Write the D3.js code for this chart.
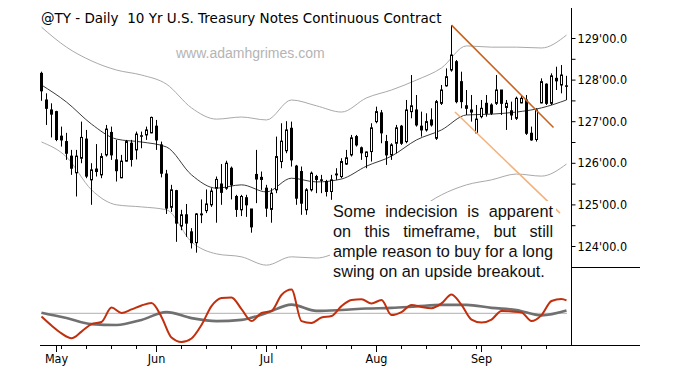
<!DOCTYPE html>
<html>
<head>
<meta charset="utf-8">
<script src="https://cdn.jsdelivr.net/npm/d3@7"></script>
<style>
  body { margin: 0; background: #fff; }
  svg text { font-family: Tahoma, "DejaVu Sans Condensed", "DejaVu Sans", sans-serif; }
</style>
</head>
<body>
<script>
const width = 679, height = 375;

// trading calendar, Apr 28 - Sep 25 2015
const firstDay = "2015-04-28", lastDay = "2015-09-25";
const holidays = ["2015-05-25", "2015-07-03", "2015-09-07"];

// daily bars (price in points)
const open = [128.15,127.51,127.27,127.23,126.64,126.51,126.16,125.76,126.11,126.57,125.59,125.85,125.71,126.19,126.73,126.07,125.64,126.04,126.47,126.31,126.65,126.67,126.72,126.88,126.43,125.73,
  124.93,125.33,124.48,124.75,124.34,124.08,124.75,124.85,124.99,125.39,125.49,125.39,125.87,125.19,124.87,125.16,124.89,125.72,125.65,125.39,124.88,125.35,126.03,126.29,126.83,125.92,
  125.79,124.87,125.35,125.67,125.59,125.55,125.31,125.71,125.67,125.97,126.19,126.63,126.36,126.15,126.27,126.99,127.20,126.51,126.19,126.47,126.88,126.51,127.23,127.27,126.88,126.79,127.03,
  126.59,127.43,127.85,128.23,128.43,127.95,127.37,127.27,126.72,127.11,127.43,127.39,127.43,127.75,127.33,127.25,127.07,127.44,127.51,126.71,126.56,127.44,127.89,127.43,128.03,127.87,127.85];
const high = [128.19,127.67,127.43,127.25,126.87,126.72,126.31,126.31,126.99,126.79,125.99,126.45,126.23,126.91,126.87,126.55,126.19,126.55,126.55,126.75,126.75,126.87,127.11,127.03,126.51,125.83,
  125.47,125.35,124.87,125.01,124.43,124.79,125.12,125.36,125.39,125.67,125.97,126.05,125.91,125.23,125.23,125.23,124.89,126.31,125.79,125.47,125.39,126.63,126.95,127.00,126.99,125.95,
  125.91,125.39,125.79,125.71,125.71,125.59,125.71,125.87,126.11,126.31,126.67,126.67,126.39,126.27,126.95,127.35,127.27,126.67,126.47,126.91,126.91,127.51,128.11,127.63,127.23,127.19,127.31,
  127.51,127.87,128.27,129.31,128.47,128.19,127.75,127.63,127.39,127.51,127.63,127.43,128.11,127.75,127.51,127.47,127.59,127.63,127.63,126.87,127.31,128.03,127.91,128.15,128.31,128.35,128.09];
const low = [127.49,126.91,126.61,126.52,126.39,126.07,125.71,125.19,125.99,125.63,124.99,125.67,125.63,126.15,126.07,125.55,125.63,126.03,125.91,126.08,126.35,126.55,126.71,126.31,125.65,124.77,
  124.82,124.10,124.38,124.22,123.94,123.84,124.55,124.79,124.94,124.56,124.99,125.35,125.12,124.70,124.72,124.70,124.32,125.03,125.35,124.70,124.56,125.27,125.87,126.23,125.91,124.99,
  124.75,124.75,125.31,125.27,125.27,125.19,125.11,125.59,125.63,125.95,126.15,126.39,126.07,125.87,126.03,126.95,126.47,125.95,126.07,126.23,126.43,126.47,127.07,126.87,126.63,126.75,126.87,
  126.55,127.39,127.83,128.19,127.43,127.31,127.15,126.99,126.71,127.07,127.11,127.15,127.39,127.15,126.79,127.03,127.03,127.43,126.67,126.53,126.51,127.43,127.39,127.39,127.75,127.67,127.51];
const close = [127.73,127.31,127.17,126.56,126.55,126.23,125.87,126.16,126.61,125.68,125.83,125.79,126.15,126.81,126.19,125.81,126.04,126.51,126.08,126.69,126.65,126.79,127.09,126.55,125.75,124.91,
  125.35,124.55,124.75,124.55,124.08,124.77,124.77,125.01,125.32,125.60,125.29,125.99,125.47,124.88,125.19,124.99,124.46,125.61,125.60,124.91,125.27,126.15,126.52,126.79,126.07,125.15,
  125.03,125.35,125.75,125.60,125.58,125.31,125.59,125.73,126.03,126.12,126.60,126.43,126.24,126.26,126.84,127.23,126.72,126.19,126.43,126.84,126.47,127.27,127.37,126.91,126.79,126.99,126.91,
  127.47,127.75,128.07,128.59,127.47,127.47,127.31,127.22,127.05,127.31,127.19,127.19,127.75,127.43,127.43,127.15,127.55,127.55,126.71,126.55,127.27,127.95,127.43,128.09,127.97,128.11,127.85];

// overlays read every 5th bar: upper band, average, lower band
const bandStep = 5;
const upperBand = [129.26,128.78,128.45,128.23,128.11,127.89,127.32,127.05,127.10,127.03,127.51,127.37,127.22,127.56,127.75,127.99,128.28,128.81,128.78,128.78,128.76,129.07];
const average = [127.87,127.46,126.93,126.57,126.50,126.38,125.71,125.39,125.47,125.30,125.63,125.54,125.61,125.92,126.16,126.55,126.79,127.15,127.17,127.22,127.32,127.51];
const lowerBand = [126.50,126.14,125.35,124.99,124.94,124.87,124.10,123.81,123.74,123.54,123.74,123.71,123.90,124.22,124.58,124.87,125.23,125.47,125.59,125.73,125.68,125.97];

// lower panel oscillators
const fastStep = 2;
const fastOsc = [-0.11,-0.41,-0.67,-0.83,-0.61,-0.36,-0.29,0.19,0.01,0.13,0.26,0.34,-0.12,-0.81,-0.96,-0.84,-0.39,0.24,0.51,0.53,0.14,-0.26,0.01,0.08,0.61,0.79,-0.26,
  -0.32,-0.14,-0.09,0.24,0.44,0.47,0.33,0.44,-0.06,0.04,0.28,0.21,0.17,0.33,0.63,0.28,-0.21,-0.31,-0.21,0.08,0.06,0.03,-0.26,-0.06,0.41,0.48,0.43];
const slowStep = 5;
const slowOsc = [0.02,-0.16,-0.36,-0.39,-0.22,0.04,-0.16,-0.26,-0.22,0.01,0.29,0.08,0.11,0.16,0.18,0.23,0.28,0.28,0.18,0.11,-0.07,0.09];

// trend lines: [bar, price] pairs
const trendLines = [
  { pts: [[82, 129.31], [102.4, 126.85]], color: "#c8641e" },
  { pts: [[82.7, 127.22], [103.7, 124.79]], color: "#f3b27c" }
];

const priceTicks = d3.range(124, 129.01, 0.5);
const title = "@TY - Daily  10 Yr U.S. Treasury Notes Continuous Contract";
const watermark = "www.adamhgrimes.com";
const note = ["Some indecision is apparent", "on this timeframe, but still", "ample reason to buy for a long", "swing on an upside breakout."];

const fmtDay = d3.utcFormat("%Y-%m-%d");
const parseDay = d3.utcParse("%Y-%m-%d");
const days = d3.utcDays(parseDay(firstDay), d3.utcDay.offset(parseDay(lastDay), 1))
  .filter(d => d.getUTCDay() % 6 !== 0 && !holidays.includes(fmtDay(d)));

const svg = d3.select("body").append("svg")
  .attr("width", width)
  .attr("height", height);

const x = d3.scaleLinear().domain([0, open.length - 1]).range([41.5, 566.5]);
const y = d3.scaleLinear().domain([124, 129]).range([246, 38]);
const yOsc = d3.scaleLinear().domain([-1, 1]).range([343.3, 283.3]);

const sampled = (vals, step) => vals.map((v, k) => [Math.min(k * step, open.length - 1), v]);

// title + watermark
svg.append("text").attr("x", 41).attr("y", 23)
  .attr("font-size", 13.5).attr("fill", "#000")
  .style("font-family", "'DejaVu Sans', Tahoma, sans-serif")
  .style("white-space", "pre")
  .text(title);
svg.append("text").attr("x", 176).attr("y", 57.5)
  .attr("font-size", 14).attr("fill", "#b4b4b4")
  .style("font-family", "'Liberation Sans', Arial, sans-serif")
  .text(watermark);

// bands and average
const priceLine = d3.line().x(d => x(d[0])).y(d => y(d[1])).curve(d3.curveMonotoneX);
svg.append("path").datum(sampled(upperBand, bandStep)).attr("d", priceLine)
  .attr("fill", "none").attr("stroke", "#a9a9a9").attr("stroke-width", 1);
svg.append("path").datum(sampled(lowerBand, bandStep)).attr("d", priceLine)
  .attr("fill", "none").attr("stroke", "#a9a9a9").attr("stroke-width", 1);
svg.append("path").datum(sampled(average, bandStep)).attr("d", priceLine)
  .attr("fill", "none").attr("stroke", "#3c3c3c").attr("stroke-width", 1);

// candles
const bars = open.map((o, i) => ({ i, o, h: high[i], l: low[i], c: close[i] }));
const candle = svg.append("g").selectAll("g").data(bars).join("g");
candle.append("line")
  .attr("x1", d => x(d.i)).attr("x2", d => x(d.i))
  .attr("y1", d => y(d.h)).attr("y2", d => y(d.l))
  .attr("stroke", "#000").attr("stroke-width", 1);
candle.append("rect")
  .attr("x", d => x(d.i) - 1)
  .attr("width", 2)
  .attr("y", d => y(Math.max(d.o, d.c)))
  .attr("height", d => Math.max(0.5, Math.abs(y(d.o) - y(d.c))))
  .attr("fill", d => d.c < d.o ? "#000" : "#fff")
  .attr("stroke", "#000").attr("stroke-width", 1);

// trend lines
svg.append("g").selectAll("line").data(trendLines).join("line")
  .attr("x1", d => x(d.pts[0][0])).attr("y1", d => y(d.pts[0][1]))
  .attr("x2", d => x(d.pts[1][0])).attr("y2", d => y(d.pts[1][1]))
  .attr("stroke", d => d.color).attr("stroke-width", 1.6);

// annotation, justified
const noteBox = { x: 333, w: 220, y0: 216.7, lh: 20 };
svg.append("rect").attr("x", 330).attr("y", 201).attr("width", 226).attr("height", 82).attr("fill", "#fff");
const noteText = svg.append("g").attr("font-size", 16.3);
note.forEach((line, k) => {
  const t = noteText.append("text")
    .attr("x", noteBox.x).attr("y", noteBox.y0 + k * noteBox.lh)
    .attr("fill", "#111")
    .style("font-family", "'Liberation Sans', Arial, sans-serif")
    .text(line);
  if (k < note.length - 1) {
    const gaps = line.split(" ").length - 1;
    const extra = (noteBox.w - t.node().getComputedTextLength()) / gaps;
    t.style("word-spacing", extra + "px");
  }
});

// lower panel
svg.append("line").attr("x1", 41).attr("x2", 567).attr("y1", yOsc(0)).attr("y2", yOsc(0))
  .attr("stroke", "#b0b0b0").attr("stroke-width", 1);
const oscLine = d3.line().x(d => x(d[0])).y(d => yOsc(d[1])).curve(d3.curveMonotoneX);
svg.append("path").datum(sampled(slowOsc, slowStep)).attr("d", oscLine)
  .attr("fill", "none").attr("stroke", "#707070").attr("stroke-width", 2.6);
svg.append("path").datum(sampled(fastOsc, fastStep)).attr("d", oscLine)
  .attr("fill", "none").attr("stroke", "#c0300e").attr("stroke-width", 2);

// frame
svg.append("line").attr("x1", 571.5).attr("x2", 571.5).attr("y1", 8).attr("y2", 345.5)
  .attr("stroke", "#000");
svg.append("line").attr("x1", 571.5).attr("x2", 640).attr("y1", 267.5).attr("y2", 267.5)
  .attr("stroke", "#000");
svg.append("line").attr("x1", 40).attr("x2", 640).attr("y1", 345.5).attr("y2", 345.5)
  .attr("stroke", "#000");

// price axis
const fmtPrice = p => {
  const whole = Math.floor(p), t = Math.round((p - whole) * 32);
  return whole + "'" + String(t).padStart(2, "0") + ".0";
};
const yAxis = svg.append("g").attr("transform", "translate(571.5,0)")
  .call(d3.axisRight(y).tickValues(priceTicks).tickSize(4).tickPadding(2)
    .tickFormat(d => d % 1 === 0 ? fmtPrice(d) : ""));
yAxis.select(".domain").remove();
yAxis.selectAll("text").attr("font-size", 12.5).attr("font-family", null).attr("fill", "#000");

// date axis
const monthIdx = days.map((d, i) => i).filter(i => i > 0 && days[i].getUTCMonth() !== days[i - 1].getUTCMonth());
const weekIdx = days.map((d, i) => i).filter(i => i > 0 && +d3.utcMonday.floor(days[i]) !== +d3.utcMonday.floor(days[i - 1]));
svg.append("g").selectAll("line").data(weekIdx).join("line")
  .attr("x1", i => x(i)).attr("x2", i => x(i)).attr("y1", 345.5).attr("y2", 349)
  .attr("stroke", "#000");
svg.append("g").selectAll("line").data(monthIdx).join("line")
  .attr("x1", i => x(i)).attr("x2", i => x(i)).attr("y1", 345.5).attr("y2", 352)
  .attr("stroke", "#000");
svg.append("g").selectAll("text").data(monthIdx).join("text")
  .attr("x", i => x(i)).attr("y", 363)
  .attr("text-anchor", "middle").attr("font-size", 12.5).attr("fill", "#000")
  .text(i => d3.utcFormat("%b")(days[i]));
</script>
</body>
</html>
